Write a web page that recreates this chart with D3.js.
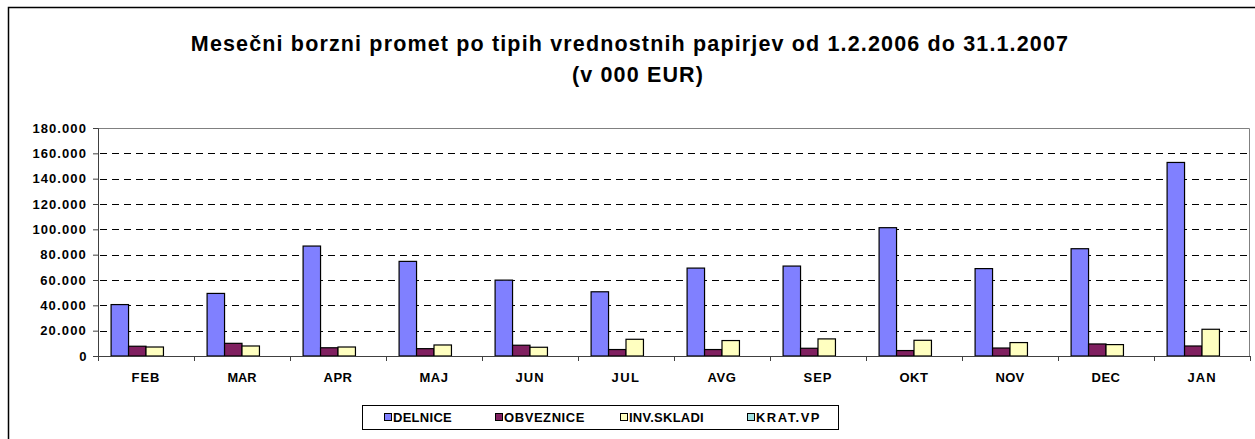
<!DOCTYPE html>
<html>
<head>
<meta charset="utf-8">
<script src="https://cdn.jsdelivr.net/npm/d3@7"></script>
<style>
  body { margin: 0; background: #fff; }
</style>
</head>
<body>
<div id="chart"></div>
<script>
// data (values in 000 EUR)
const months = ['FEB', 'MAR', 'APR', 'MAJ', 'JUN', 'JUL', 'AVG', 'SEP', 'OKT', 'NOV', 'DEC', 'JAN'];
const seriesNames = ['DELNICE', 'OBVEZNICE', 'INV.SKLADI', 'KRAT.VP'];
const delnice = [40600, 49400, 86800, 74700, 59900, 50700, 69400, 71000, 101300, 69000, 84700, 152800];
const obveznice = [7700, 10000, 6500, 5800, 8500, 5100, 5100, 6100, 4300, 6300, 9500, 7900];
const invSkladi = [7100, 7900, 7100, 8700, 6900, 13200, 12200, 13500, 12400, 10600, 9000, 21100];
const kratVp = [0, 0, 0, 0, 0, 0, 0, 0, 0, 0, 0, 0];
const yTicks = [0, 20000, 40000, 60000, 80000, 100000, 120000, 140000, 160000, 180000];

const colors = ['#8080ff', '#802060', '#ffffc0', '#a0e0e0'];
const allSeries = [delnice, obveznice, invSkladi, kratVp];

const width = 1255;
const height = 439;
const plot = {left: 98, right: 1250, top: 128, bottom: 356};
const FONT = '"Liberation Sans", Arial, sans-serif';

const svg = d3.select('#chart').append('svg')
    .attr('width', width)
    .attr('height', height);

// bold text, grown to the width seen in the picture (size capped, rest as spacing)
const styleText = (sel, size, maxSize, target) => {
    sel.attr('font-family', FONT).attr('font-weight', 'bold').attr('fill', '#000')
        .attr('font-size', size);
    const node = sel.node();
    let w = node.getComputedTextLength();
    const s = Math.min(maxSize, size * target / w);
    sel.attr('font-size', s);
    w = node.getComputedTextLength();
    sel.attr('letter-spacing', ((target - w) / node.textContent.length).toFixed(2));
};

// outer chart frame (runs off the picture on right and bottom)
svg.append('rect')
    .attr('x', 8.5).attr('y', 7.5)
    .attr('width', 1260).attr('height', 460)
    .attr('fill', 'none').attr('stroke', '#000').attr('stroke-width', 1.5);

const t1 = svg.append('text')
    .attr('x', 630).attr('y', 51)
    .attr('text-anchor', 'middle')
    .text('Mesečni borzni promet po tipih vrednostnih papirjev od 1.2.2006 do 31.1.2007');
styleText(t1, 20, 21.5, 878);
const t2 = svg.append('text')
    .attr('x', 638).attr('y', 82)
    .attr('text-anchor', 'middle')
    .text('(v 000 EUR)');
styleText(t2, 20, 21.5, 132);

const x0 = d3.scaleBand()
    .domain(months)
    .range([plot.left, plot.right])
    .paddingInner(0).paddingOuter(0);

const bw = x0.bandwidth();
const barW = bw / 5.5;
const x1 = d3.scaleBand()
    .domain(seriesNames)
    .range([barW * 0.75, bw - barW * 0.75]);

const y = d3.scaleLinear()
    .domain([0, 180000])
    .range([plot.bottom, plot.top]);

const locale = d3.formatLocale({decimal: ',', thousands: '.', grouping: [3], currency: ['', '']});
const fmt = locale.format(',.0f');

// plot frame top and right
svg.append('path')
    .attr('d', `M${plot.left},${plot.top + 0.5}H${plot.right - 0.5}V${plot.bottom}`)
    .attr('fill', 'none').attr('stroke', '#808080').attr('stroke-width', 1);

// dashed gridlines
svg.append('g')
    .selectAll('line')
    .data(yTicks.filter(d => d > 0 && d < 180000))
    .enter()
    .append('line')
    .attr('x1', plot.left + 2)
    .attr('x2', plot.right - 3)
    .attr('y1', d => Math.round(y(d)) + 0.5)
    .attr('y2', d => Math.round(y(d)) + 0.5)
    .attr('stroke', '#000')
    .attr('stroke-dasharray', '7,5');

// bars
const groups = svg.append('g')
    .selectAll('g')
    .data(months)
    .enter()
    .append('g')
    .attr('transform', m => `translate(${x0(m)},0)`);

groups.selectAll('rect')
    .data((m, i) => seriesNames.map((s, j) => ({s: s, v: allSeries[j][i], c: colors[j]})))
    .enter()
    .append('rect')
    .filter(d => d.v > 0)
    .attr('x', d => x1(d.s))
    .attr('y', d => y(d.v))
    .attr('width', x1.bandwidth())
    .attr('height', d => plot.bottom - y(d.v))
    .attr('fill', d => d.c)
    .attr('stroke', '#000')
    .attr('stroke-width', 1.2);

// axes
const yAxis = svg.append('g')
    .attr('transform', `translate(${plot.left},0)`)
    .call(d3.axisLeft(y).tickValues(yTicks).tickFormat(fmt).tickSize(5).tickPadding(6));
yAxis.select('.domain').attr('stroke', '#404040');
yAxis.selectAll('.tick line').attr('stroke', '#404040');
yAxis.selectAll('.tick text').each(function () {
    styleText(d3.select(this), 12, 13, this.textContent.length * 7.8);
});

const xAxis = svg.append('g')
    .attr('transform', `translate(0,${plot.bottom})`)
    .call(d3.axisBottom(x0).tickSize(0).tickPadding(17));
xAxis.select('.domain').attr('stroke', '#404040');
xAxis.selectAll('.tick text').each(function () {
    styleText(d3.select(this), 12, 13, this.textContent.length * 9.7);
});

// category boundary ticks
svg.append('g')
    .selectAll('line')
    .data(months.concat(['end']))
    .enter()
    .append('line')
    .attr('x1', (m, i) => Math.round(plot.left + i * bw) + 0.5)
    .attr('x2', (m, i) => Math.round(plot.left + i * bw) + 0.5)
    .attr('y1', plot.bottom)
    .attr('y2', plot.bottom + 5)
    .attr('stroke', '#404040');

// legend
const legend = svg.append('g');
legend.append('rect')
    .attr('x', 362.5).attr('y', 405.5)
    .attr('width', 476).attr('height', 24)
    .attr('fill', '#fff').attr('stroke', '#000');

const legendX = [384.5, 495.5, 620.5, 747.5];
const legendW = [59, 81, 75, 65];
const items = legend.selectAll('g')
    .data(seriesNames)
    .enter()
    .append('g')
    .attr('transform', (d, i) => `translate(${legendX[i]},413.5)`);
items.append('rect')
    .attr('width', 7).attr('height', 7)
    .attr('fill', (d, i) => colors[i])
    .attr('stroke', '#000');
items.append('text')
    .attr('x', 8.5).attr('y', 8.5)
    .text(d => d)
    .each(function (d, i) { styleText(d3.select(this), 12, 13, legendW[i]); });
</script>
</body>
</html>
